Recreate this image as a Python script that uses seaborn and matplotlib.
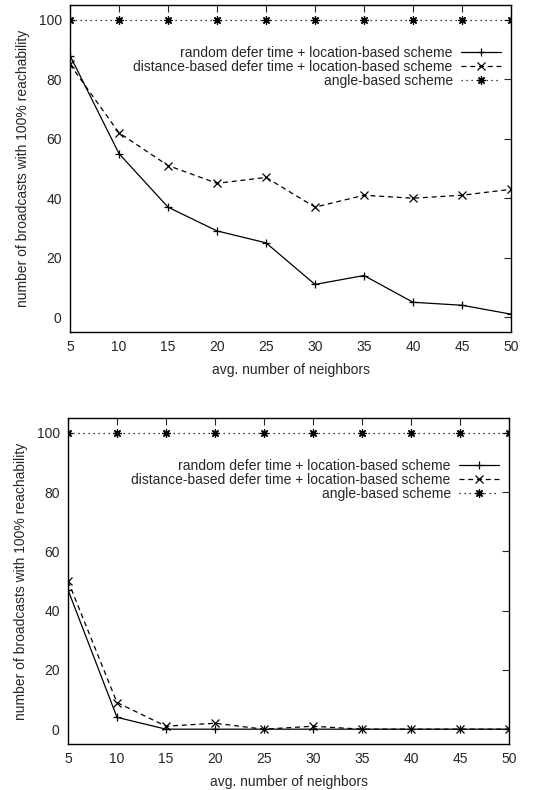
import numpy as np
import pandas as pd
import matplotlib
matplotlib.use('Agg')
import matplotlib.pyplot as plt
import seaborn as sns

neighbors = [5, 10, 15, 20, 25, 30, 35, 40, 45, 50]

# top panel
top_random = [88, 55, 37, 29, 25, 11, 14, 5, 4, 1]
top_distance = [85, 62, 51, 45, 47, 37, 41, 40, 41, 43]
top_angle = [100, 100, 100, 100, 100, 100, 100, 100, 100, 100]

# bottom panel
bot_random = [47, 4, 0, 0, 0, 0, 0, 0, 0, 0]
bot_distance = [50, 9, 1, 2, 0, 1, 0, 0, 0, 0]
bot_angle = [100, 100, 100, 100, 100, 100, 100, 100, 100, 100]

LABELS = ['random defer time + location-based scheme',
          'distance-based defer time + location-based scheme',
          'angle-based scheme']
STYLES = [dict(linestyle='-', marker='+'),
          dict(linestyle=(0, (4, 3)), marker='x'),
          dict(linestyle=(0, (1, 3)), marker=(8, 2, 0))]

sns.set_style('white')
plt.rcParams['font.family'] = ['Liberation Sans', 'DejaVu Sans']
plt.rcParams['font.size'] = 10

fig = plt.figure(figsize=(5.4, 7.9), dpi=100)
ax1 = fig.add_axes([70 / 540, 1 - 332 / 790, 441 / 540, 327 / 790])
ax2 = fig.add_axes([68 / 540, 1 - 744 / 790, 441 / 540, 326 / 790])

def panel(ax, series):
    for vals, lab, st in zip(series, LABELS, STYLES):
        df = pd.DataFrame({'x': neighbors, 'y': vals})
        sns.lineplot(data=df, x='x', y='y', ax=ax, color='black', lw=0.9,
                     markersize=6, markeredgewidth=0.9, markeredgecolor='black',
                     markerfacecolor='black', label=lab, **st)
    ax.set_xlim(5, 50)
    ax.set_ylim(-5, 105)
    ax.set_xticks(neighbors)
    ax.set_yticks([0, 20, 40, 60, 80, 100])
    ax.tick_params(direction='in', top=True, right=True, length=5, width=0.8,
                   labelsize=10, pad=6)
    for s in ax.spines.values():
        s.set_linewidth(1.0)
        s.set_color('black')
    ax.set_xlabel('avg. number of neighbors', fontsize=10, labelpad=6)
    ax.set_ylabel('number of broadcasts with 100% reachability', fontsize=10, labelpad=6)
    ax.legend(loc='upper right', bbox_to_anchor=(1.0, 0.905), frameon=False,
              markerfirst=False, fontsize=10, handlelength=2.9, labelspacing=0.02,
              handletextpad=0.6, borderaxespad=0.3)

panel(ax1, [top_random, top_distance, top_angle])
panel(ax2, [bot_random, bot_distance, bot_angle])

fig.savefig('out.png', dpi=100)
